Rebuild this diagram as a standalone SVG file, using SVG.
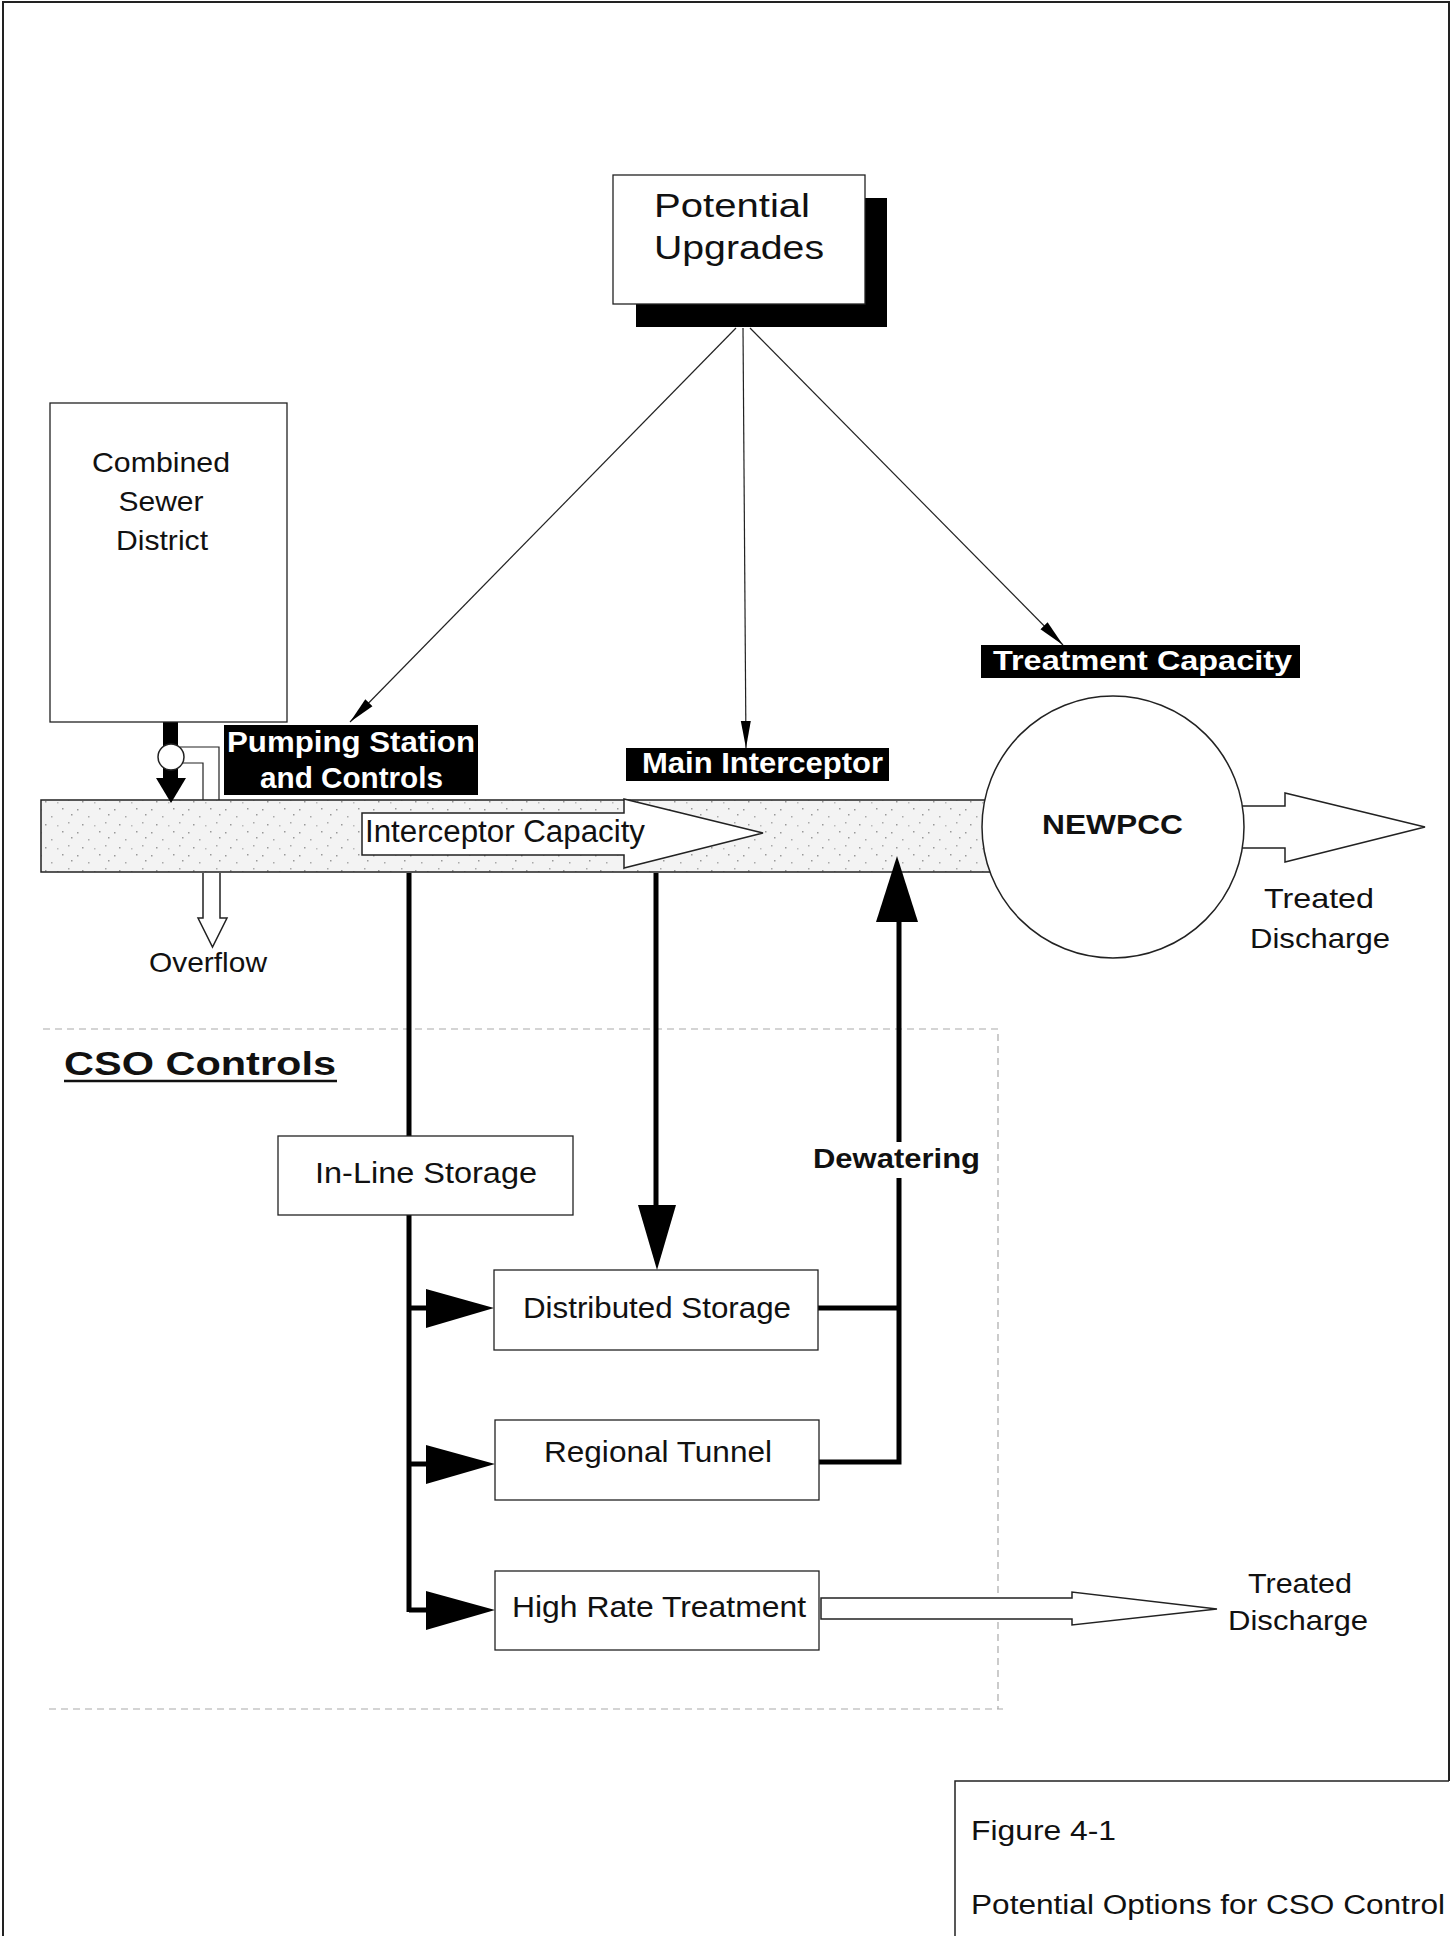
<svg xmlns="http://www.w3.org/2000/svg" width="1452" height="1938" viewBox="0 0 1452 1938">
  <defs>
    <style>
      .t { font-family: "Liberation Sans", Arial, sans-serif; fill: #111; }
      .b { font-family: "Liberation Sans", Arial, sans-serif; font-weight: bold; }
      .w { fill: #fff; }
      .box { fill: #fff; stroke: #222; stroke-width: 1.3; }
      .thin { stroke: #222; stroke-width: 1.2; fill: none; }
      .thick { stroke: #000; stroke-width: 5; fill: none; }
      .dash { stroke: #aaa; stroke-width: 1.2; stroke-dasharray: 7 5; fill: none; }
      .hollow { fill: #fff; stroke: #222; stroke-width: 1.5; }
    </style>
    <marker id="ah" markerUnits="userSpaceOnUse" markerWidth="28" markerHeight="12" refX="27" refY="6" orient="auto">
      <path d="M0,1 L27,6 L0,11 z" fill="#000"/>
    </marker>
    <pattern id="speckle" width="37" height="23" patternUnits="userSpaceOnUse">
      <rect width="37" height="23" fill="#f3f3f3"/>
      <rect x="3" y="4" width="1.5" height="1.5" fill="#999"/>
      <rect x="14" y="11" width="1.5" height="1.5" fill="#aaa"/>
      <rect x="25" y="3" width="1.5" height="1.5" fill="#999"/>
      <rect x="31" y="17" width="1.5" height="1.5" fill="#aaa"/>
      <rect x="8" y="19" width="1.5" height="1.5" fill="#999"/>
      <rect x="20" y="20" width="1.5" height="1.5" fill="#bbb"/>
      <rect x="34" y="9" width="1.5" height="1.5" fill="#999"/>
    </pattern>
  </defs>

  <rect width="1452" height="1938" fill="#fff"/>
  <!-- page border -->
  <path d="M3,1936 V2 H1449 V1781" fill="none" stroke="#222" stroke-width="2"/>

  <!-- CSO Controls dashed region -->
  <g id="cso-region">
    <path class="dash" d="M43,1029 H998 V1709 M49,1709 H1003"/>
    <text class="b" x="64" y="1075" font-size="33" textLength="272" lengthAdjust="spacingAndGlyphs" fill="#111">CSO Controls</text>
    <line x1="64" y1="1081" x2="337" y2="1081" stroke="#111" stroke-width="2.5"/>
  </g>

  <!-- Interceptor pipe -->
  <g id="interceptor-pipe">
    <path d="M1000,800 H41 V872 H1000" fill="url(#speckle)" stroke="#222" stroke-width="1.5"/>
  </g>

  <!-- connectors -->
  <g id="connectors">
    <!-- thin arrows from Potential Upgrades -->
    <line class="thin" x1="736" y1="328" x2="350" y2="722" marker-end="url(#ah)"/>
    <line class="thin" x1="743" y1="328" x2="746" y2="748" marker-end="url(#ah)"/>
    <line class="thin" x1="750" y1="328" x2="1063" y2="645" marker-end="url(#ah)"/>

    <!-- combined sewer to pipe: thick black arrow with regulator -->
    <rect x="163" y="722" width="15" height="24" fill="#000"/>
    <rect x="163" y="768" width="15" height="11" fill="#000"/>
    <polygon points="156,778 186,778 171,803" fill="#000"/>
    <!-- hollow overflow channel -->
    <path d="M180,747 H219 V800" class="thin" stroke-width="1.5"/>
    <path d="M182,763 H203 V800" class="thin" stroke-width="1.5"/>
    <path d="M203,873 V918 H198 L212.5,947 L227,918 H220 V873" class="hollow"/>

    <!-- Interceptor Capacity arrow -->
    <polygon class="hollow" points="362,813 624,813 624,799 763,833 624,868 624,855 362,855"/>

    <!-- Treated discharge from NEWPCC -->
    <polygon class="hollow" points="1236,806 1285,806 1285,793 1425,827 1285,862 1285,848 1236,848"/>

    <!-- main branch line to CSO controls -->
    <path class="thick" d="M409,873 V1136 M409,1215 V1612"/>
    <path class="thick" d="M409,1308 H430 M409,1464 H430 M409,1610 H430"/>
    <polygon points="426,1289 494,1308 426,1328" fill="#000"/>
    <polygon points="426,1445 495,1464 426,1484" fill="#000"/>
    <polygon points="426,1591 495,1610 426,1630" fill="#000"/>

    <!-- line from pipe to Distributed Storage -->
    <line class="thick" x1="656" y1="873" x2="656" y2="1210"/>
    <polygon points="638,1205 676,1205 657,1270" fill="#000"/>

    <!-- Dewatering return -->
    <path class="thick" d="M818,1308 H899 M819,1462 H899 V1178 M899,1142 V918"/>
    <polygon points="876,922 918,922 897,856" fill="#000"/>

    <!-- High Rate Treatment discharge -->
    <polygon class="hollow" points="821,1598 1072,1598 1072,1592 1217,1609 1072,1625 1072,1619 821,1619"/>
  </g>

  <!-- Potential Upgrades -->
  <g id="potential-upgrades">
    <rect x="636" y="198" width="251" height="129" fill="#000"/>
    <rect class="box" x="613" y="175" width="252" height="129"/>
    <text class="t" x="654" y="217" font-size="34" textLength="156" lengthAdjust="spacingAndGlyphs">Potential</text>
    <text class="t" x="654" y="259" font-size="34" textLength="170" lengthAdjust="spacingAndGlyphs">Upgrades</text>
  </g>

  <!-- Combined Sewer District -->
  <g id="combined-sewer-district">
    <rect class="box" x="50" y="403" width="237" height="319"/>
    <text class="t" x="161" y="472" font-size="28" text-anchor="middle" textLength="138" lengthAdjust="spacingAndGlyphs">Combined</text>
    <text class="t" x="161" y="511" font-size="28" text-anchor="middle" textLength="85" lengthAdjust="spacingAndGlyphs">Sewer</text>
    <text class="t" x="162" y="550" font-size="28" text-anchor="middle" textLength="92" lengthAdjust="spacingAndGlyphs">District</text>
  </g>

  <!-- Regulator circle -->
  <g id="regulator">
    <circle cx="171" cy="757" r="13" fill="#fff" stroke="#222" stroke-width="1.5"/>
  </g>

  <!-- Pumping Station label -->
  <g id="pumping-station-label">
    <rect x="224" y="725" width="254" height="70" fill="#000"/>
    <text class="b w" x="227" y="752" font-size="30" textLength="248" lengthAdjust="spacingAndGlyphs">Pumping Station</text>
    <text class="b w" x="260" y="788" font-size="30" textLength="183" lengthAdjust="spacingAndGlyphs">and Controls</text>
  </g>

  <!-- Main Interceptor label -->
  <g id="main-interceptor-label">
    <rect x="626" y="748" width="263" height="33" fill="#000"/>
    <text class="b w" x="642" y="773" font-size="29" textLength="241" lengthAdjust="spacingAndGlyphs">Main Interceptor</text>
  </g>

  <!-- Treatment Capacity label -->
  <g id="treatment-capacity-label">
    <rect x="981" y="645" width="319" height="33" fill="#000"/>
    <text class="b w" x="993" y="670" font-size="28" textLength="299" lengthAdjust="spacingAndGlyphs">Treatment Capacity</text>
  </g>

  <!-- Interceptor Capacity text -->
  <g id="interceptor-capacity">
    <text class="t" x="365" y="842" font-size="31" textLength="280" lengthAdjust="spacingAndGlyphs">Interceptor Capacity</text>
  </g>

  <!-- NEWPCC -->
  <g id="newpcc">
    <circle cx="1113" cy="827" r="131" fill="#fff" stroke="#222" stroke-width="1.5"/>
    <text class="b" x="1042" y="834" font-size="28" fill="#111" textLength="141" lengthAdjust="spacingAndGlyphs">NEWPCC</text>
  </g>

  <g id="treated-discharge-1">
    <text class="t" x="1319" y="908" font-size="28" text-anchor="middle" textLength="110" lengthAdjust="spacingAndGlyphs">Treated</text>
    <text class="t" x="1320" y="948" font-size="28" text-anchor="middle" textLength="140" lengthAdjust="spacingAndGlyphs">Discharge</text>
  </g>

  <g id="overflow">
    <text class="t" x="149" y="972" font-size="28" textLength="118" lengthAdjust="spacingAndGlyphs">Overflow</text>
  </g>

  <!-- CSO control boxes -->
  <g id="in-line-storage">
    <rect class="box" x="278" y="1136" width="295" height="79"/>
    <text class="t" x="426" y="1183" font-size="30" text-anchor="middle" textLength="222" lengthAdjust="spacingAndGlyphs">In-Line Storage</text>
  </g>

  <g id="distributed-storage">
    <rect class="box" x="494" y="1270" width="324" height="80"/>
    <text class="t" x="657" y="1318" font-size="30" text-anchor="middle" textLength="268" lengthAdjust="spacingAndGlyphs">Distributed Storage</text>
  </g>

  <g id="regional-tunnel">
    <rect class="box" x="495" y="1420" width="324" height="80"/>
    <text class="t" x="658" y="1462" font-size="30" text-anchor="middle" textLength="228" lengthAdjust="spacingAndGlyphs">Regional Tunnel</text>
  </g>

  <g id="high-rate-treatment">
    <rect class="box" x="495" y="1571" width="324" height="79"/>
    <text class="t" x="659" y="1617" font-size="30" text-anchor="middle" textLength="294" lengthAdjust="spacingAndGlyphs">High Rate Treatment</text>
  </g>

  <g id="treated-discharge-2">
    <text class="t" x="1300" y="1593" font-size="28" text-anchor="middle" textLength="104" lengthAdjust="spacingAndGlyphs">Treated</text>
    <text class="t" x="1298" y="1630" font-size="28" text-anchor="middle" textLength="140" lengthAdjust="spacingAndGlyphs">Discharge</text>
  </g>

  <g id="dewatering">
    <text class="b" x="813" y="1168" font-size="28" fill="#111" textLength="167" lengthAdjust="spacingAndGlyphs">Dewatering</text>
  </g>

  <!-- Figure caption -->
  <g id="figure-caption">
    <path d="M955,1936 V1781 H1449" fill="none" stroke="#222" stroke-width="1.5"/>
    <text class="t" x="971" y="1840" font-size="27" textLength="145" lengthAdjust="spacingAndGlyphs">Figure 4-1</text>
    <text class="t" x="971" y="1914" font-size="27" textLength="474" lengthAdjust="spacingAndGlyphs">Potential Options for CSO Control</text>
  </g>
</svg>
